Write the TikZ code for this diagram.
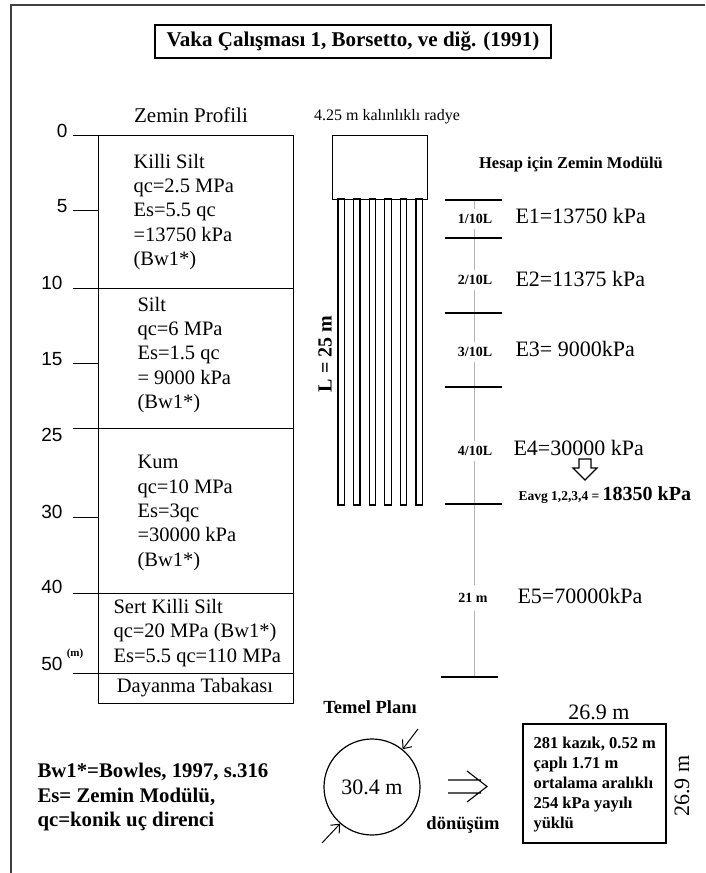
\documentclass[tikz,border=0pt]{standalone}
\usepackage{fontspec}
\setmainfont{Liberation Serif}
\newfontfamily\arialfont{Liberation Sans}
\usetikzlibrary{arrows.meta}

\begin{document}
\begin{tikzpicture}[x=1pt,y=-1pt,line width=1pt,
    katman/.style={anchor=west, align=left, inner sep=0pt, font=\fontsize{20.5}{24.3}\selectfont},
    derinlik/.style={anchor=east, inner sep=0pt, font=\arialfont\fontsize{19}{19}\selectfont},
    oran/.style={fill=white, inner sep=0pt, minimum height=20pt, font=\bfseries\fontsize{14}{14}\selectfont},
    modul/.style={anchor=west, inner sep=0pt, font=\fontsize{22}{22}\selectfont},
    kalin/.style={inner sep=0pt, font=\bfseries\fontsize{#1}{#1}\selectfont},
    duz/.style={inner sep=0pt, font=\fontsize{#1}{#1}\selectfont},
    ok/.style={-{Straight Barb[length=7pt,width=12pt]}}
]
\useasboundingbox (0,0) rectangle (705,873);
\draw[line width=1.5pt, black!75] (705,5) -- (11,5) -- (11,873);

\node[draw, line width=1.5pt, minimum width=396pt, minimum height=33pt, kalin=21] (baslik) at (353,41.5) {Vaka Çalışması 1, Borsetto, ve diğ. (1991)};

% zemin profili
\node[duz=21] (profil) at (191,115) {Zemin Profili};
\draw (98,135) rectangle (293,703);
\foreach \y in {135,288,428,593,673} \draw (73,\y) -- (293,\y);
\foreach \y in {210,363,517} \draw (73,\y) -- (98,\y);
\foreach \d/\x/\y in {0/68/131,5/68/206,10/63/283,15/63/359,25/63/435,30/63/512,40/63/587,50/63/664}
    \node[derinlik] (d\d) at (\x,\y) {\d};
\node[kalin=11] (birim) at (75,654) {(m)};

\node[katman] (k1) at (133,212) {Killi Silt\\qc=2.5 MPa\\Es=5.5 qc\\=13750 kPa\\(Bw1*)};
\node[katman] (k2) at (137,355) {Silt\\qc=6 MPa\\Es=1.5 qc\\= 9000 kPa\\(Bw1*)};
\node[katman] (k3) at (137,513) {Kum\\qc=10 MPa\\Es=3qc\\=30000 kPa\\(Bw1*)};
\node[katman] (k4) at (113,633) {Sert Killi Silt\\qc=20 MPa (Bw1*)\\Es=5.5 qc=110 MPa};
\node[duz=20.5] (k5) at (195,688) {Dayanma Tabakası};

% radye ve kaziklar
\node[duz=16] (radyeyazi) at (387,117) {4.25 m kalınlıklı radye};
\node[draw, line width=1.3pt, minimum width=95pt, minimum height=64pt, inner sep=0pt, anchor=north west] (radye) at (332,135) {};
\foreach \i in {0,...,5} \draw[line width=1.2pt] (338+15.6*\i,199) rectangle ++(6.3,306);
\node[kalin=20, rotate=90] (boy) at (325,354) {L = 25 m};

% hesap icin zemin modulu
\node[kalin=16.5] (hesap) at (571,165) {Hesap için Zemin Modülü};
\draw[gray!60, line width=0.6pt] (474,200) -- (474,677);
\foreach \y in {200,238,313,387,504} \draw[line width=1.5pt] (445,\y) -- (502,\y);
\draw[line width=1.5pt] (441,677) -- (498,677);
\node[oran] (o1) at (475,219) {1/10L};
\node[oran] (o2) at (475,280) {2/10L};
\node[oran] (o3) at (475,352) {3/10L};
\node[oran] (o4) at (475,451) {4/10L};
\node[oran, minimum height=26pt] (o5) at (473,598) {21 m};

\node[modul] (e1) at (515,216) {E1=13750 kPa};
\node[modul] (e2) at (515,279) {E2=11375 kPa};
\node[modul] (e3) at (515,349) {E3= 9000kPa};
\node[modul] (e4) at (513,448) {E4=30000 kPa};
\draw[line width=1.2pt] (579,459) -- (591,459) -- (591,468) -- (597,468) -- (585,480) -- (573,468) -- (579,468) -- cycle;
\node[anchor=west, inner sep=0pt, font=\bfseries] (eort) at (518,495) {\fontsize{13.5}{13.5}\selectfont Eavg 1,2,3,4 = \fontsize{20}{20}\selectfont 18350 kPa};
\node[modul] (e5) at (517,596) {E5=70000kPa};

% temel plani
\node[anchor=west, align=left, inner sep=0pt, font=\bfseries\fontsize{20.8}{24.5}\selectfont] (aciklama) at (37,797) {Bw1*=Bowles, 1997, s.316\\Es= Zemin Modülü,\\qc=konik uç direnci};
\node[kalin=18.5] (plan) at (370,707) {Temel Planı};
\node[draw, circle, minimum size=96pt, inner sep=0pt, line width=1.2pt, duz=22] (daire) at (372,787) {30.4 m};
\coordinate (ok1) at (418,729);
\coordinate (ok2) at (322,843);
\draw[ok] (ok1) -- (daire.51);
\draw[ok] (ok2) -- (daire.229);
\draw[line width=1.1pt] (448,780) -- (481,780) (448,793) -- (481,793) (467,771) -- (487,786.5) -- (467,802);
\node[kalin=18.5] (donusum) at (463,825) {dönüşüm};

\node[draw, line width=1.2pt, minimum width=143pt, minimum height=119pt, inner sep=0pt] (kare) at (594.5,783.5) {};
\node[anchor=west, align=left, inner sep=0pt, font=\bfseries\fontsize{16.5}{20}\selectfont] (karebilgi) at (533,785) {281 kazık, 0.52 m\\çaplı 1.71 m\\ortalama aralıklı\\254 kPa yayılı\\yüklü};
\node[duz=22] (ustolcu) at (599,712) {26.9 m};
\node[duz=22, rotate=90] (yanolcu) at (682,786) {26.9 m};
\end{tikzpicture}
\end{document}
